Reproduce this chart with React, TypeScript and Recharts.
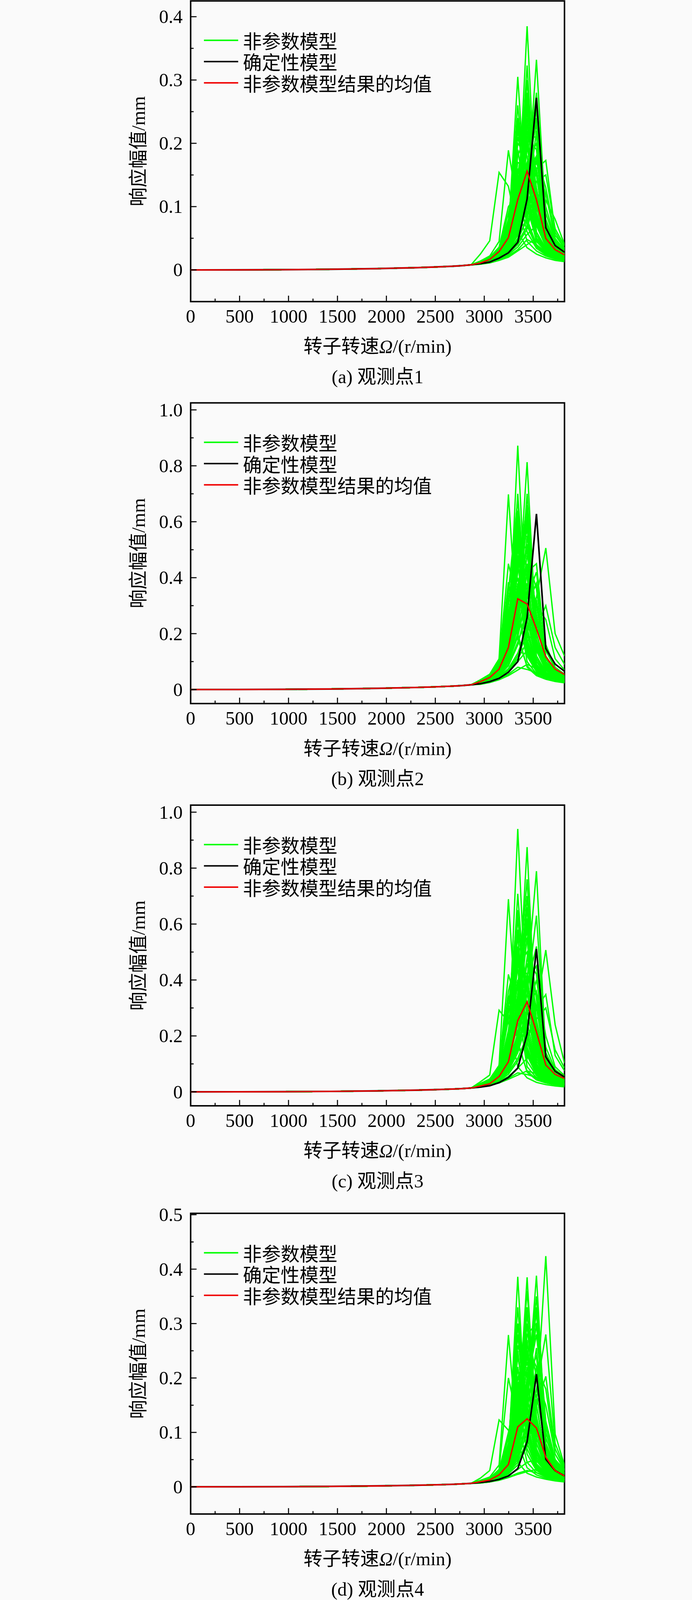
import React from "react";
import { LineChart, Line, XAxis, YAxis, ReferenceArea, Legend } from "recharts";

// rotor speed rows (r/min): sparse below 2900, every 10 rad/s near resonance
const SPEED = [
  0, 477.5, 954.9, 1432.4, 1909.9, 2291.8, 2482.8, 2673.8, 2769.3, 2864.8,
  2960.3, 3055.8, 3151.3, 3246.8, 3342.3, 3437.7, 3533.2, 3628.7, 3724.2, 3819.7,
];

const X_MAJOR = [0, 500, 1000, 1500, 2000, 2500, 3000, 3500];
const X_MAJOR_LABELS = ["0", "500", "1000", "1500", "2000", "2500", "3000", "3500"];
const X_MINOR = [250, 750, 1250, 1750, 2250, 2750, 3250, 3750];

const CAPTIONS = ["(a) 观测点1", "(b) 观测点2", "(c) 观测点3", "(d) 观测点4"];

// ---- observation point 1 ----
const LOW_1 = [0, 0.0001, 0.0004, 0.001, 0.0021, 0.0035, 0.0045, 0.0058, 0.0067, 0.008];
const BLACK_1 = [0.0099, 0.0124, 0.0186, 0.027, 0.0436, 0.112, 0.272, 0.0665, 0.0385, 0.028];
const MEAN_1 = [0.011, 0.0165, 0.029, 0.051, 0.111, 0.156, 0.111, 0.0498, 0.032, 0.0238];
const GREEN_1 = [
  [0.012, 0.016, 0.024, 0.04, 0.09, 0.385, 0.09, 0.045, 0.03, 0.022],
  [0.011, 0.014, 0.02, 0.031, 0.055, 0.12, 0.332, 0.075, 0.042, 0.03],
  [0.012, 0.016, 0.025, 0.042, 0.1, 0.323, 0.085, 0.042, 0.028, 0.021],
  [0.013, 0.018, 0.029, 0.06, 0.305, 0.08, 0.04, 0.027, 0.02, 0.016],
  [0.013, 0.018, 0.03, 0.058, 0.231, 0.075, 0.038, 0.026, 0.019, 0.015],
  [0.014, 0.022, 0.045, 0.189, 0.1, 0.045, 0.03, 0.022, 0.017, 0.014],
  [0.025, 0.046, 0.154, 0.132, 0.06, 0.035, 0.025, 0.019, 0.015, 0.013],
  [0.011, 0.014, 0.02, 0.03, 0.048, 0.08, 0.16, 0.173, 0.06, 0.034],
  [0.012, 0.016, 0.025, 0.045, 0.11, 0.28, 0.11, 0.05, 0.032, 0.024],
  [0.012, 0.017, 0.027, 0.05, 0.15, 0.25, 0.08, 0.04, 0.028, 0.021],
  [0.011, 0.015, 0.022, 0.036, 0.07, 0.2, 0.25, 0.065, 0.038, 0.027],
  [0.011, 0.015, 0.022, 0.035, 0.068, 0.23, 0.13, 0.055, 0.034, 0.025],
  [0.012, 0.016, 0.026, 0.048, 0.2, 0.18, 0.06, 0.033, 0.024, 0.019],
  [0.013, 0.018, 0.03, 0.065, 0.26, 0.11, 0.045, 0.029, 0.021, 0.017],
  [0.011, 0.015, 0.023, 0.038, 0.08, 0.3, 0.1, 0.048, 0.031, 0.023],
  [0.011, 0.014, 0.021, 0.033, 0.06, 0.15, 0.28, 0.07, 0.04, 0.029],
  [0.01, 0.013, 0.019, 0.029, 0.05, 0.1, 0.22, 0.09, 0.045, 0.032],
  [0.012, 0.017, 0.028, 0.055, 0.18, 0.22, 0.07, 0.037, 0.026, 0.02],
  [0.013, 0.019, 0.033, 0.08, 0.22, 0.13, 0.05, 0.03, 0.022, 0.017],
  [0.012, 0.016, 0.026, 0.046, 0.12, 0.2, 0.09, 0.044, 0.029, 0.022],
  [0.011, 0.015, 0.022, 0.037, 0.075, 0.17, 0.2, 0.06, 0.036, 0.026],
  [0.01, 0.013, 0.018, 0.027, 0.043, 0.07, 0.14, 0.15, 0.065, 0.038],
  [0.01, 0.013, 0.018, 0.026, 0.04, 0.065, 0.12, 0.11, 0.08, 0.04],
  [0.009, 0.012, 0.016, 0.022, 0.032, 0.048, 0.04, 0.028, 0.021, 0.017],
  [0.009, 0.011, 0.015, 0.02, 0.03, 0.04, 0.05, 0.035, 0.025, 0.019],
  [0.012, 0.017, 0.027, 0.052, 0.16, 0.12, 0.05, 0.031, 0.022, 0.018],
  [0.012, 0.016, 0.025, 0.044, 0.095, 0.15, 0.18, 0.055, 0.033, 0.024],
  [0.011, 0.015, 0.023, 0.039, 0.085, 0.26, 0.15, 0.05, 0.032, 0.024],
  [0.013, 0.019, 0.034, 0.09, 0.15, 0.07, 0.036, 0.025, 0.019, 0.015],
  [0.011, 0.014, 0.021, 0.034, 0.062, 0.13, 0.17, 0.12, 0.05, 0.031],
  [0.012, 0.016, 0.024, 0.042, 0.105, 0.21, 0.21, 0.058, 0.034, 0.025],
  [0.014, 0.02, 0.036, 0.1, 0.12, 0.06, 0.034, 0.024, 0.018, 0.015],
  [0.012, 0.016, 0.025, 0.043, 0.1, 0.24, 0.12, 0.05, 0.032, 0.024],
  [0.011, 0.015, 0.023, 0.038, 0.078, 0.19, 0.16, 0.058, 0.035, 0.025],
  [0.012, 0.017, 0.027, 0.05, 0.14, 0.2, 0.075, 0.039, 0.027, 0.02],
  [0.011, 0.014, 0.021, 0.034, 0.065, 0.14, 0.24, 0.08, 0.042, 0.03],
  [0.013, 0.018, 0.031, 0.07, 0.19, 0.1, 0.046, 0.029, 0.021, 0.017],
  [0.012, 0.016, 0.026, 0.047, 0.13, 0.27, 0.1, 0.046, 0.03, 0.023],
  [0.011, 0.015, 0.022, 0.036, 0.07, 0.16, 0.23, 0.07, 0.039, 0.028],
  [0.012, 0.017, 0.028, 0.054, 0.17, 0.16, 0.06, 0.034, 0.024, 0.019],
  [0.01, 0.013, 0.019, 0.028, 0.046, 0.085, 0.18, 0.13, 0.055, 0.034],
  [0.012, 0.016, 0.025, 0.045, 0.115, 0.22, 0.15, 0.052, 0.033, 0.024],
  [0.013, 0.019, 0.032, 0.075, 0.24, 0.12, 0.048, 0.03, 0.022, 0.017],
  [0.011, 0.015, 0.023, 0.04, 0.088, 0.21, 0.19, 0.06, 0.036, 0.026],
  [0.01, 0.012, 0.017, 0.024, 0.036, 0.056, 0.07, 0.045, 0.03, 0.022],
  [0.012, 0.017, 0.026, 0.049, 0.135, 0.17, 0.11, 0.045, 0.03, 0.022],
  [0.011, 0.014, 0.02, 0.032, 0.058, 0.11, 0.26, 0.1, 0.048, 0.033],
  [0.013, 0.018, 0.03, 0.062, 0.21, 0.15, 0.055, 0.032, 0.023, 0.018],
];
const Y_DOMAIN_1 = [-0.05, 0.425];
const Y_MAJOR_1 = [0, 0.1, 0.2, 0.3, 0.4];
const Y_LABELS_1 = ["0", "0.1", "0.2", "0.3", "0.4"];
const Y_MINOR_1 = [0.05, 0.15, 0.25, 0.35];

// ---- observation point 2 ----
const LOW_2 = [0, 0.0002, 0.0009, 0.0021, 0.0045, 0.0074, 0.0095, 0.0123, 0.0142, 0.017];
const BLACK_2 = [0.021, 0.0285, 0.04, 0.062, 0.1, 0.258, 0.628, 0.147, 0.091, 0.0655];
const MEAN_2 = [0.0285, 0.043, 0.073, 0.1505, 0.3245, 0.306, 0.217, 0.117, 0.073, 0.054];
const GREEN_2 = [
  [0.03, 0.045, 0.075, 0.16, 0.872, 0.2, 0.09, 0.055, 0.04, 0.032],
  [0.028, 0.04, 0.065, 0.13, 0.3, 0.813, 0.16, 0.08, 0.052, 0.04],
  [0.035, 0.055, 0.11, 0.698, 0.18, 0.085, 0.052, 0.038, 0.03, 0.025],
  [0.022, 0.03, 0.045, 0.07, 0.12, 0.2, 0.33, 0.506, 0.2, 0.12],
  [0.034, 0.052, 0.1, 0.384, 0.2, 0.08, 0.05, 0.037, 0.029, 0.024],
  [0.03, 0.046, 0.08, 0.2, 0.7, 0.25, 0.1, 0.058, 0.042, 0.033],
  [0.029, 0.042, 0.07, 0.15, 0.45, 0.6, 0.14, 0.07, 0.047, 0.036],
  [0.031, 0.048, 0.085, 0.24, 0.62, 0.18, 0.08, 0.05, 0.037, 0.029],
  [0.027, 0.039, 0.062, 0.12, 0.26, 0.7, 0.2, 0.085, 0.055, 0.042],
  [0.025, 0.035, 0.055, 0.1, 0.2, 0.42, 0.45, 0.12, 0.07, 0.05],
  [0.033, 0.05, 0.095, 0.32, 0.52, 0.15, 0.07, 0.045, 0.034, 0.027],
  [0.03, 0.045, 0.078, 0.18, 0.56, 0.35, 0.11, 0.06, 0.043, 0.034],
  [0.028, 0.041, 0.068, 0.14, 0.35, 0.5, 0.18, 0.08, 0.052, 0.04],
  [0.032, 0.049, 0.09, 0.28, 0.4, 0.13, 0.066, 0.043, 0.033, 0.027],
  [0.026, 0.037, 0.058, 0.105, 0.22, 0.55, 0.25, 0.095, 0.06, 0.045],
  [0.024, 0.033, 0.05, 0.085, 0.16, 0.3, 0.38, 0.16, 0.08, 0.055],
  [0.029, 0.043, 0.072, 0.155, 0.48, 0.28, 0.1, 0.058, 0.042, 0.033],
  [0.031, 0.047, 0.082, 0.21, 0.3, 0.12, 0.064, 0.042, 0.032, 0.026],
  [0.027, 0.04, 0.064, 0.125, 0.28, 0.38, 0.15, 0.072, 0.048, 0.037],
  [0.023, 0.031, 0.047, 0.075, 0.13, 0.22, 0.3, 0.25, 0.11, 0.07],
  [0.02, 0.027, 0.038, 0.055, 0.08, 0.072, 0.06, 0.046, 0.037, 0.031],
  [0.019, 0.025, 0.035, 0.05, 0.07, 0.09, 0.075, 0.055, 0.042, 0.034],
  [0.03, 0.044, 0.076, 0.17, 0.6, 0.42, 0.12, 0.062, 0.044, 0.035],
  [0.028, 0.041, 0.066, 0.135, 0.33, 0.65, 0.17, 0.078, 0.051, 0.039],
  [0.034, 0.053, 0.105, 0.45, 0.3, 0.1, 0.056, 0.04, 0.031, 0.025],
  [0.026, 0.036, 0.056, 0.1, 0.19, 0.35, 0.32, 0.11, 0.065, 0.048],
  [0.029, 0.043, 0.071, 0.15, 0.38, 0.22, 0.09, 0.054, 0.04, 0.032],
  [0.025, 0.034, 0.052, 0.09, 0.17, 0.26, 0.2, 0.09, 0.058, 0.044],
  [0.032, 0.048, 0.088, 0.25, 0.52, 0.2, 0.085, 0.052, 0.038, 0.03],
  [0.027, 0.039, 0.061, 0.118, 0.24, 0.45, 0.3, 0.1, 0.062, 0.046],
  [0.022, 0.03, 0.044, 0.068, 0.11, 0.17, 0.22, 0.3, 0.15, 0.09],
  [0.033, 0.051, 0.098, 0.35, 0.68, 0.16, 0.072, 0.046, 0.035, 0.028],
  [0.03, 0.045, 0.078, 0.185, 0.64, 0.3, 0.1, 0.057, 0.041, 0.033],
  [0.028, 0.041, 0.067, 0.14, 0.36, 0.58, 0.16, 0.076, 0.05, 0.039],
  [0.031, 0.047, 0.084, 0.23, 0.58, 0.22, 0.085, 0.051, 0.038, 0.03],
  [0.026, 0.037, 0.059, 0.11, 0.23, 0.48, 0.36, 0.11, 0.066, 0.048],
  [0.032, 0.049, 0.09, 0.27, 0.46, 0.14, 0.068, 0.044, 0.033, 0.027],
  [0.029, 0.042, 0.07, 0.15, 0.42, 0.66, 0.15, 0.072, 0.048, 0.037],
  [0.027, 0.039, 0.063, 0.122, 0.27, 0.52, 0.27, 0.094, 0.059, 0.044],
  [0.03, 0.046, 0.08, 0.2, 0.5, 0.4, 0.12, 0.062, 0.044, 0.035],
  [0.025, 0.035, 0.054, 0.098, 0.19, 0.33, 0.42, 0.14, 0.075, 0.052],
  [0.033, 0.051, 0.097, 0.3, 0.6, 0.17, 0.075, 0.047, 0.035, 0.028],
  [0.028, 0.04, 0.065, 0.13, 0.31, 0.44, 0.2, 0.083, 0.053, 0.04],
  [0.031, 0.047, 0.083, 0.22, 0.44, 0.3, 0.1, 0.057, 0.041, 0.033],
  [0.022, 0.03, 0.043, 0.066, 0.1, 0.14, 0.16, 0.1, 0.06, 0.044],
  [0.029, 0.043, 0.073, 0.16, 0.54, 0.5, 0.14, 0.068, 0.046, 0.036],
  [0.026, 0.038, 0.06, 0.115, 0.25, 0.62, 0.24, 0.09, 0.057, 0.043],
  [0.034, 0.052, 0.1, 0.36, 0.54, 0.15, 0.07, 0.045, 0.034, 0.027],
];
const Y_DOMAIN_2 = [-0.05, 1.025];
const Y_MAJOR_2 = [0, 0.2, 0.4, 0.6, 0.8, 1.0];
const Y_LABELS_2 = ["0", "0.2", "0.4", "0.6", "0.8", "1.0"];
const Y_MINOR_2 = [0.1, 0.3, 0.5, 0.7, 0.9];

// ---- observation point 3 ----
const LOW_3 = [0, 0.0002, 0.0007, 0.0017, 0.0036, 0.006, 0.0077, 0.01, 0.0115, 0.0138];
const BLACK_3 = [0.017, 0.022, 0.033, 0.0515, 0.085, 0.207, 0.511, 0.125, 0.0735, 0.053];
const MEAN_3 = [0.021, 0.029, 0.055, 0.1075, 0.255, 0.322, 0.2145, 0.096, 0.0625, 0.0477];
const GREEN_3 = [
  [0.026, 0.038, 0.065, 0.15, 0.94, 0.22, 0.085, 0.05, 0.036, 0.029],
  [0.024, 0.034, 0.056, 0.115, 0.29, 0.875, 0.16, 0.072, 0.047, 0.036],
  [0.022, 0.031, 0.049, 0.09, 0.19, 0.4, 0.789, 0.13, 0.07, 0.05],
  [0.03, 0.046, 0.095, 0.689, 0.17, 0.075, 0.045, 0.033, 0.026, 0.022],
  [0.026, 0.038, 0.066, 0.16, 0.708, 0.25, 0.09, 0.052, 0.037, 0.03],
  [0.022, 0.031, 0.048, 0.088, 0.18, 0.35, 0.63, 0.14, 0.072, 0.051],
  [0.02, 0.027, 0.04, 0.063, 0.11, 0.18, 0.3, 0.507, 0.24, 0.103],
  [0.029, 0.044, 0.09, 0.344, 0.18, 0.07, 0.043, 0.032, 0.025, 0.021],
  [0.036, 0.06, 0.292, 0.25, 0.09, 0.05, 0.034, 0.026, 0.021, 0.018],
  [0.021, 0.029, 0.044, 0.075, 0.14, 0.25, 0.3, 0.348, 0.13, 0.075],
  [0.025, 0.036, 0.062, 0.14, 0.5, 0.4, 0.11, 0.058, 0.04, 0.031],
  [0.024, 0.035, 0.058, 0.12, 0.32, 0.62, 0.18, 0.078, 0.05, 0.038],
  [0.023, 0.033, 0.053, 0.105, 0.25, 0.48, 0.42, 0.11, 0.062, 0.045],
  [0.027, 0.04, 0.072, 0.2, 0.56, 0.15, 0.07, 0.043, 0.032, 0.026],
  [0.024, 0.034, 0.056, 0.118, 0.3, 0.7, 0.2, 0.082, 0.052, 0.039],
  [0.022, 0.031, 0.05, 0.095, 0.2, 0.38, 0.52, 0.12, 0.066, 0.047],
  [0.026, 0.039, 0.068, 0.17, 0.62, 0.3, 0.095, 0.054, 0.038, 0.03],
  [0.028, 0.042, 0.08, 0.26, 0.38, 0.11, 0.058, 0.039, 0.03, 0.024],
  [0.023, 0.033, 0.054, 0.108, 0.26, 0.55, 0.26, 0.09, 0.056, 0.041],
  [0.021, 0.029, 0.045, 0.08, 0.15, 0.28, 0.4, 0.2, 0.09, 0.058],
  [0.018, 0.024, 0.034, 0.049, 0.068, 0.062, 0.052, 0.041, 0.033, 0.028],
  [0.017, 0.023, 0.032, 0.045, 0.06, 0.075, 0.065, 0.049, 0.038, 0.031],
  [0.025, 0.037, 0.063, 0.145, 0.45, 0.5, 0.13, 0.064, 0.043, 0.033],
  [0.024, 0.035, 0.059, 0.125, 0.35, 0.76, 0.17, 0.075, 0.049, 0.037],
  [0.029, 0.045, 0.092, 0.42, 0.3, 0.09, 0.05, 0.036, 0.028, 0.023],
  [0.022, 0.032, 0.051, 0.098, 0.21, 0.42, 0.35, 0.105, 0.062, 0.045],
  [0.026, 0.039, 0.067, 0.16, 0.4, 0.2, 0.08, 0.048, 0.035, 0.028],
  [0.021, 0.03, 0.047, 0.085, 0.17, 0.3, 0.25, 0.1, 0.06, 0.044],
  [0.027, 0.041, 0.075, 0.22, 0.48, 0.18, 0.075, 0.046, 0.034, 0.027],
  [0.023, 0.033, 0.054, 0.11, 0.27, 0.6, 0.33, 0.098, 0.058, 0.043],
  [0.02, 0.028, 0.042, 0.07, 0.12, 0.2, 0.26, 0.3, 0.15, 0.085],
  [0.028, 0.043, 0.085, 0.3, 0.65, 0.16, 0.068, 0.043, 0.032, 0.026],
  [0.026, 0.038, 0.066, 0.165, 0.58, 0.36, 0.1, 0.054, 0.038, 0.03],
  [0.024, 0.035, 0.058, 0.122, 0.33, 0.66, 0.19, 0.078, 0.05, 0.038],
  [0.027, 0.041, 0.074, 0.21, 0.52, 0.2, 0.078, 0.047, 0.034, 0.027],
  [0.022, 0.032, 0.05, 0.094, 0.2, 0.4, 0.45, 0.12, 0.066, 0.047],
  [0.028, 0.043, 0.083, 0.28, 0.44, 0.13, 0.062, 0.04, 0.03, 0.024],
  [0.025, 0.036, 0.061, 0.135, 0.39, 0.58, 0.15, 0.07, 0.046, 0.035],
  [0.023, 0.033, 0.053, 0.106, 0.24, 0.46, 0.3, 0.095, 0.058, 0.043],
  [0.026, 0.039, 0.069, 0.18, 0.46, 0.42, 0.12, 0.06, 0.041, 0.032],
  [0.021, 0.03, 0.046, 0.083, 0.16, 0.3, 0.36, 0.16, 0.08, 0.053],
  [0.029, 0.044, 0.088, 0.31, 0.56, 0.16, 0.07, 0.044, 0.032, 0.026],
  [0.024, 0.034, 0.057, 0.115, 0.28, 0.4, 0.22, 0.085, 0.053, 0.04],
  [0.027, 0.04, 0.071, 0.19, 0.4, 0.3, 0.1, 0.055, 0.039, 0.031],
  [0.019, 0.026, 0.037, 0.055, 0.085, 0.12, 0.14, 0.09, 0.055, 0.04],
  [0.025, 0.037, 0.064, 0.15, 0.5, 0.55, 0.14, 0.066, 0.044, 0.034],
  [0.023, 0.033, 0.054, 0.108, 0.24, 0.66, 0.24, 0.088, 0.055, 0.041],
  [0.03, 0.045, 0.092, 0.36, 0.5, 0.14, 0.065, 0.042, 0.031, 0.025],
];
const Y_DOMAIN_3 = [-0.05, 1.025];
const Y_MAJOR_3 = [0, 0.2, 0.4, 0.6, 0.8, 1.0];
const Y_LABELS_3 = ["0", "0.2", "0.4", "0.6", "0.8", "1.0"];
const Y_MINOR_3 = [0.1, 0.3, 0.5, 0.7, 0.9];

// ---- observation point 4 ----
const LOW_4 = [0, 0.0001, 0.0003, 0.0008, 0.0017, 0.0028, 0.0036, 0.0046, 0.0054, 0.0064];
const BLACK_4 = [0.008, 0.01, 0.0137, 0.02, 0.0335, 0.083, 0.207, 0.0507, 0.0297, 0.02];
const MEAN_4 = [0.0095, 0.0126, 0.022, 0.041, 0.11, 0.125, 0.108, 0.0545, 0.0297, 0.02];
const GREEN_4 = [
  [0.008, 0.01, 0.015, 0.024, 0.04, 0.075, 0.15, 0.424, 0.097, 0.039],
  [0.01, 0.014, 0.024, 0.06, 0.386, 0.08, 0.035, 0.022, 0.016, 0.013],
  [0.009, 0.013, 0.02, 0.04, 0.11, 0.385, 0.09, 0.04, 0.025, 0.018],
  [0.009, 0.012, 0.018, 0.032, 0.07, 0.16, 0.388, 0.08, 0.04, 0.026],
  [0.012, 0.018, 0.04, 0.279, 0.08, 0.035, 0.022, 0.016, 0.012, 0.01],
  [0.009, 0.013, 0.02, 0.038, 0.095, 0.251, 0.08, 0.036, 0.023, 0.017],
  [0.009, 0.012, 0.018, 0.031, 0.065, 0.14, 0.255, 0.075, 0.038, 0.025],
  [0.008, 0.011, 0.016, 0.026, 0.045, 0.085, 0.15, 0.203, 0.07, 0.033],
  [0.01, 0.014, 0.024, 0.055, 0.152, 0.07, 0.032, 0.021, 0.015, 0.012],
  [0.016, 0.03, 0.123, 0.104, 0.045, 0.025, 0.018, 0.014, 0.011, 0.009],
  [0.01, 0.014, 0.023, 0.05, 0.3, 0.15, 0.05, 0.027, 0.018, 0.014],
  [0.009, 0.013, 0.021, 0.042, 0.13, 0.32, 0.11, 0.045, 0.027, 0.019],
  [0.009, 0.012, 0.019, 0.035, 0.08, 0.2, 0.32, 0.09, 0.043, 0.028],
  [0.01, 0.015, 0.026, 0.07, 0.25, 0.09, 0.038, 0.024, 0.017, 0.013],
  [0.009, 0.013, 0.021, 0.041, 0.12, 0.3, 0.2, 0.06, 0.032, 0.022],
  [0.009, 0.012, 0.019, 0.034, 0.075, 0.18, 0.35, 0.1, 0.045, 0.029],
  [0.01, 0.014, 0.023, 0.048, 0.2, 0.25, 0.07, 0.033, 0.021, 0.016],
  [0.011, 0.016, 0.03, 0.1, 0.18, 0.06, 0.03, 0.02, 0.015, 0.012],
  [0.009, 0.013, 0.02, 0.039, 0.1, 0.22, 0.15, 0.055, 0.03, 0.021],
  [0.008, 0.011, 0.017, 0.028, 0.055, 0.11, 0.2, 0.15, 0.06, 0.032],
  [0.007, 0.009, 0.013, 0.018, 0.025, 0.03, 0.026, 0.02, 0.016, 0.013],
  [0.007, 0.009, 0.012, 0.017, 0.023, 0.028, 0.032, 0.024, 0.018, 0.015],
  [0.01, 0.014, 0.022, 0.046, 0.17, 0.33, 0.09, 0.038, 0.024, 0.017],
  [0.009, 0.013, 0.021, 0.043, 0.14, 0.36, 0.13, 0.048, 0.028, 0.02],
  [0.011, 0.016, 0.032, 0.2, 0.12, 0.045, 0.026, 0.018, 0.014, 0.011],
  [0.009, 0.012, 0.019, 0.036, 0.085, 0.19, 0.28, 0.12, 0.05, 0.031],
  [0.01, 0.014, 0.024, 0.052, 0.22, 0.11, 0.042, 0.025, 0.017, 0.013],
  [0.008, 0.011, 0.017, 0.029, 0.06, 0.12, 0.17, 0.07, 0.036, 0.024],
  [0.01, 0.015, 0.027, 0.075, 0.33, 0.12, 0.042, 0.025, 0.017, 0.013],
  [0.009, 0.013, 0.02, 0.04, 0.105, 0.28, 0.3, 0.08, 0.038, 0.025],
  [0.008, 0.011, 0.016, 0.027, 0.05, 0.1, 0.18, 0.28, 0.08, 0.036],
  [0.01, 0.014, 0.023, 0.049, 0.26, 0.2, 0.06, 0.03, 0.019, 0.014],
  [0.01, 0.014, 0.023, 0.047, 0.18, 0.27, 0.08, 0.035, 0.022, 0.016],
  [0.009, 0.013, 0.02, 0.04, 0.11, 0.26, 0.22, 0.065, 0.033, 0.022],
  [0.01, 0.015, 0.025, 0.06, 0.24, 0.14, 0.048, 0.027, 0.018, 0.014],
  [0.009, 0.012, 0.019, 0.035, 0.08, 0.17, 0.3, 0.11, 0.048, 0.03],
  [0.011, 0.016, 0.029, 0.09, 0.22, 0.08, 0.035, 0.022, 0.016, 0.012],
  [0.009, 0.013, 0.021, 0.044, 0.15, 0.3, 0.1, 0.042, 0.026, 0.018],
  [0.009, 0.012, 0.019, 0.036, 0.09, 0.2, 0.24, 0.075, 0.037, 0.024],
  [0.01, 0.014, 0.024, 0.053, 0.19, 0.21, 0.065, 0.031, 0.02, 0.015],
  [0.008, 0.011, 0.017, 0.029, 0.058, 0.12, 0.22, 0.18, 0.06, 0.031],
  [0.01, 0.015, 0.026, 0.065, 0.28, 0.1, 0.04, 0.024, 0.017, 0.013],
  [0.009, 0.013, 0.02, 0.04, 0.11, 0.24, 0.15, 0.052, 0.029, 0.02],
  [0.01, 0.014, 0.024, 0.054, 0.2, 0.17, 0.055, 0.028, 0.018, 0.014],
  [0.008, 0.01, 0.014, 0.021, 0.032, 0.045, 0.05, 0.034, 0.023, 0.017],
  [0.009, 0.013, 0.021, 0.045, 0.16, 0.23, 0.12, 0.045, 0.027, 0.019],
  [0.009, 0.012, 0.018, 0.033, 0.07, 0.15, 0.33, 0.12, 0.05, 0.031],
  [0.011, 0.016, 0.028, 0.08, 0.3, 0.12, 0.042, 0.025, 0.017, 0.013],
];
const Y_DOMAIN_4 = [-0.05, 0.5025];
const Y_MAJOR_4 = [0, 0.1, 0.2, 0.3, 0.4, 0.5];
const Y_LABELS_4 = ["0", "0.1", "0.2", "0.3", "0.4", "0.5"];
const Y_MINOR_4 = [0.05, 0.15, 0.25, 0.35, 0.45];

const FONT = "'Liberation Serif', 'Times New Roman', 'Noto Sans CJK SC', serif";
const GREEN = "#00ff00";
const RED = "#f00000";

// figure geometry (px, at the figure's own 1772 x 5417 scale)
const FIG_W = 1772;
const FIG_H = 5417;
const W = 1772;
const TOP = 60;
const PLOT_LEFT = 360;
const PLOT_RIGHT = 1626;
const PLOT_H = 1018;
const X_AXIS_H = 330;
const H = TOP + PLOT_H + X_AXIS_H;
const PLOT_BOTTOM = TOP + PLOT_H;
const X_MID = (PLOT_LEFT + PLOT_RIGHT) / 2;

// the browser only shows 4096px of height, so the whole figure is scaled to fit
const VIEW_H = 4096;
const FIT = VIEW_H / FIG_H;

function buildRows(low: number[], black: number[], mean: number[], green: number[][]) {
  return SPEED.map((x, i) => {
    const pick = (arr: number[]) => (i < low.length ? low[i] : arr[i - low.length]);
    const row: Record<string, number> = { x, black: pick(black), mean: pick(mean) };
    green.forEach((g, k) => {
      row["g" + k] = pick(g);
    });
    return row;
  });
}

const PANELS = [
  { boxTop: 3, rows: buildRows(LOW_1, BLACK_1, MEAN_1, GREEN_1), n: GREEN_1.length, dom: Y_DOMAIN_1, major: Y_MAJOR_1, labels: Y_LABELS_1, minor: Y_MINOR_1 },
  { boxTop: 1364, rows: buildRows(LOW_2, BLACK_2, MEAN_2, GREEN_2), n: GREEN_2.length, dom: Y_DOMAIN_2, major: Y_MAJOR_2, labels: Y_LABELS_2, minor: Y_MINOR_2 },
  { boxTop: 2726, rows: buildRows(LOW_3, BLACK_3, MEAN_3, GREEN_3), n: GREEN_3.length, dom: Y_DOMAIN_3, major: Y_MAJOR_3, labels: Y_LABELS_3, minor: Y_MINOR_3 },
  { boxTop: 4108, rows: buildRows(LOW_4, BLACK_4, MEAN_4, GREEN_4), n: GREEN_4.length, dom: Y_DOMAIN_4, major: Y_MAJOR_4, labels: Y_LABELS_4, minor: Y_MINOR_4 },
];

function XTick(props: any) {
  const { x, payload } = props;
  const i = X_MAJOR.indexOf(payload.value);
  const major = i >= 0;
  return (
    <g>
      <line x1={x} x2={x} y1={PLOT_BOTTOM} y2={PLOT_BOTTOM - (major ? 20 : 10)} stroke="#000" strokeWidth={3.5} />
      {major && (
        <text x={x} y={PLOT_BOTTOM + 50} textAnchor="middle" dominantBaseline="central" fontSize={64} fontFamily={FONT} fill="#000">
          {X_MAJOR_LABELS[i]}
        </text>
      )}
    </g>
  );
}

function makeYTick(major: number[], labels: string[]) {
  return (props: any) => {
    const { y, payload } = props;
    const i = major.indexOf(payload.value);
    const isMajor = i >= 0;
    return (
      <g>
        <line x1={PLOT_LEFT} x2={PLOT_LEFT + (isMajor ? 20 : 10)} y1={y} y2={y} stroke="#000" strokeWidth={3.5} />
        {isMajor && (
          <text x={PLOT_LEFT - 27} y={y} textAnchor="end" dominantBaseline="central" fontSize={64} fontFamily={FONT} fill="#000">
            {labels[i]}
          </text>
        )}
      </g>
    );
  };
}

function XLabel(caption: string) {
  return () => (
    <g fontFamily={FONT} fill="#000">
      <text x={X_MID} y={PLOT_BOTTOM + 152} textAnchor="middle" dominantBaseline="central" fontSize={64}>
        转子转速<tspan fontStyle="italic">Ω</tspan>/(r/min)
      </text>
      <text x={X_MID} y={PLOT_BOTTOM + 254} textAnchor="middle" dominantBaseline="central" fontSize={64}>
        {caption}
      </text>
    </g>
  );
}

function YLabel() {
  const cy = TOP + PLOT_H / 2;
  return (
    <text
      x={183}
      y={cy}
      transform={`rotate(-90 183 ${cy})`}
      textAnchor="middle"
      dominantBaseline="central"
      fontSize={64}
      fontFamily={FONT}
      fill="#000"
    >
      响应幅值/mm
    </text>
  );
}

const LEGEND_ITEMS = [
  { label: "非参数模型", color: GREEN },
  { label: "确定性模型", color: "#000" },
  { label: "非参数模型结果的均值", color: RED },
];

function LegendBox() {
  return (
    <div style={{ fontFamily: FONT, fontSize: 64, color: "#000" }}>
      {LEGEND_ITEMS.map((it) => (
        <div key={it.label} style={{ display: "flex", alignItems: "center", height: 72, whiteSpace: "nowrap" }}>
          <span style={{ display: "inline-block", width: 116, height: 5, background: it.color, marginRight: 16 }} />
          <span>{it.label}</span>
        </div>
      ))}
    </div>
  );
}

export default function App() {
  const xTicks = [...X_MAJOR, ...X_MINOR].sort((a, b) => a - b);
  return (
    <div style={{ position: "absolute", left: 0, top: 0, width: FIG_W, height: VIEW_H, background: "#fafafa", overflow: "hidden" }}>
      <div
        style={{
          position: "absolute",
          left: (FIG_W - FIG_W * FIT) / 2,
          top: 0,
          width: FIG_W,
          height: FIG_H,
          transform: `scale(${FIT})`,
          transformOrigin: "0 0",
        }}
      >
        {PANELS.map((p, idx) => {
          const yTicks = [...p.major, ...p.minor].sort((a, b) => a - b);
          const greenKeys = Array.from({ length: p.n }, (_, k) => "g" + k);
          return (
            <div key={idx} style={{ position: "absolute", left: 0, top: p.boxTop - TOP, width: W, height: H }}>
              <LineChart width={W} height={H} data={p.rows} margin={{ top: TOP, right: W - PLOT_RIGHT, left: 0, bottom: 0 }}>
                <XAxis
                  dataKey="x"
                  type="number"
                  domain={[0, 3819.7]}
                  allowDataOverflow
                  ticks={xTicks}
                  interval={0}
                  tickLine={false}
                  axisLine={false}
                  tickSize={0}
                  tickMargin={0}
                  height={X_AXIS_H}
                  tick={XTick}
                  label={XLabel(CAPTIONS[idx])}
                />
                <YAxis
                  type="number"
                  domain={p.dom}
                  allowDataOverflow
                  ticks={yTicks}
                  interval={0}
                  tickLine={false}
                  axisLine={false}
                  tickSize={0}
                  tickMargin={0}
                  width={PLOT_LEFT}
                  tick={makeYTick(p.major, p.labels)}
                  label={YLabel}
                />
                {greenKeys.map((k) => (
                  <Line key={k} dataKey={k} stroke={GREEN} strokeWidth={4.5} dot={false} activeDot={false} isAnimationActive={false} />
                ))}
                <Line dataKey="black" stroke="#000" strokeWidth={5.5} dot={false} activeDot={false} isAnimationActive={false} />
                <Line dataKey="mean" stroke={RED} strokeWidth={4.5} dot={false} activeDot={false} isAnimationActive={false} />
                <ReferenceArea x1={0} x2={3819.7} y1={p.dom[0]} y2={p.dom[1]} stroke="#000" strokeWidth={5} fill="none" fillOpacity={0} ifOverflow="visible" />
                <Legend
                  layout="vertical"
                  align="center"
                  verticalAlign="middle"
                  content={LegendBox}
                  wrapperStyle={{ left: 405, top: 133 + TOP - 36, width: 900 }}
                />
              </LineChart>
            </div>
          );
        })}
      </div>
    </div>
  );
}
